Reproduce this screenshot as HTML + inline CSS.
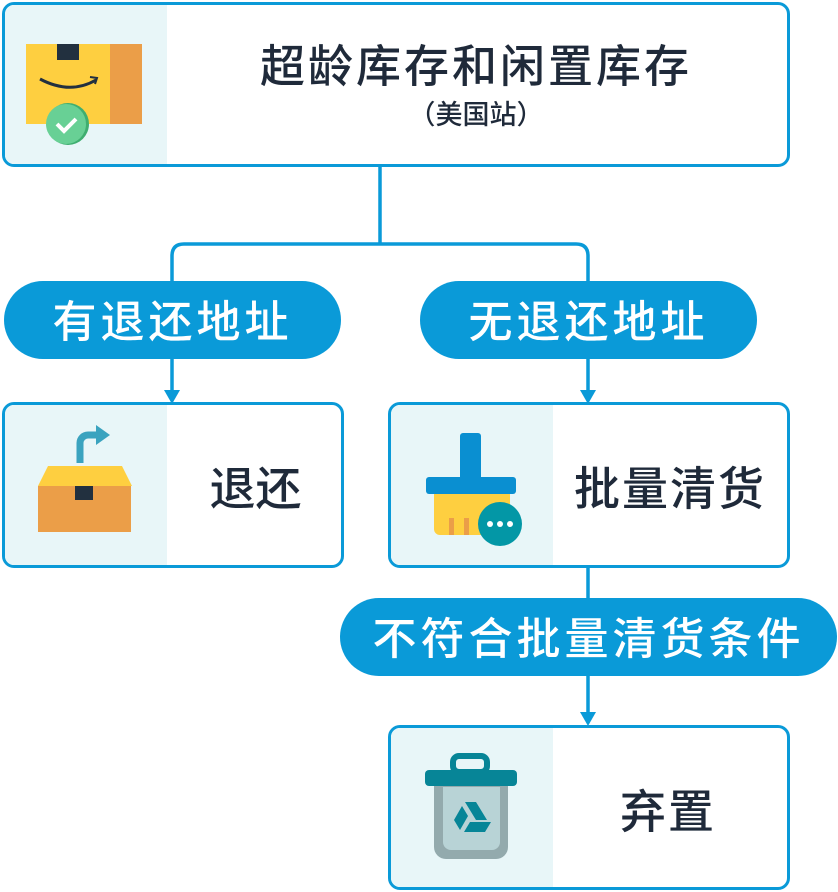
<!DOCTYPE html>
<html><head><meta charset="utf-8"><style>
body{margin:0;width:838px;height:892px;background:#fff;position:relative;overflow:hidden;font-family:"Liberation Sans","Noto Sans CJK SC",sans-serif}
.box{position:absolute;border:3px solid #0a9ad8;border-radius:12px;background:#fff;overflow:hidden;box-sizing:border-box}
.panel{position:absolute;left:0;top:0;bottom:0;background:#e8f6f8}
.t{position:absolute;color:#1f2a3a;font-weight:500;white-space:nowrap;text-align:center}
.pill{position:absolute;background:#0a9ad8;color:#fff;border-radius:40px;font-size:44px;font-weight:500;display:flex;align-items:center;justify-content:center;letter-spacing:4px;padding-bottom:4px;box-sizing:border-box}
svg{position:absolute;left:0;top:0}
</style></head><body>
<svg width="838" height="892">
<g stroke="#0a9ad8" stroke-width="3.5" fill="none">
<path d="M380 166V244M172 285V256Q172 244 184 244H576Q588 244 588 256V285"/>
<path d="M172 359V392M588 359V392M588 567V600M588 676V714"/>
</g>
<g fill="#0a9ad8"><path d="M164 390h16l-8 14z"/><path d="M580 390h16l-8 14z"/><path d="M580 712h16l-8 14z"/></g>
</svg>
<div class="box" style="left:2px;top:2px;width:788px;height:165px"><div class="panel" style="width:162px"></div>
<div class="t" style="left:160px;right:0;top:25px;font-size:45px;letter-spacing:3px">超龄库存和闲置库存</div>
<div class="t" style="left:160px;right:0;top:88px;font-size:27px">（美国站）</div></div>
<div class="box" style="left:2px;top:402px;width:342px;height:166px"><div class="panel" style="width:162px"></div>
<div class="t" style="left:165px;right:0;top:48px;font-size:46px">退还</div></div>
<div class="box" style="left:388px;top:402px;width:402px;height:166px"><div class="panel" style="width:162px"></div>
<div class="t" style="left:162px;right:0;top:48px;font-size:46px;letter-spacing:2px">批量清货</div></div>
<div class="box" style="left:388px;top:725px;width:402px;height:165px"><div class="panel" style="width:162px"></div>
<div class="t" style="left:158px;right:0;top:48px;font-size:46px;letter-spacing:2px">弃置</div></div>
<div class="pill" style="left:4px;top:281px;width:337px;height:78px">有退还地址</div>
<div class="pill" style="left:420px;top:281px;width:337px;height:78px">无退还地址</div>
<div class="pill" style="left:340px;top:598px;width:497px;height:78px">不符合批量清货条件</div>
<svg width="838" height="892">
<rect x="26" y="44" width="84" height="80" fill="#fecf40"/><rect x="110" y="44" width="32" height="80" fill="#eb9e48"/>
<rect x="57" y="44" width="22" height="16" fill="#22303f"/>
<path d="M40 79Q70 95 96 80" stroke="#22303f" stroke-width="3" fill="none"/><path d="M90 77l7 1-2 6" stroke="#22303f" stroke-width="2" fill="none"/>
<circle cx="68" cy="124" r="21" fill="#3fae70"/><circle cx="66" cy="124" r="20" fill="#68d095"/>
<path d="M57 124l7 7 12-12" stroke="#fff" stroke-width="4" fill="none"/>
<path d="M48 466h74l10 20H38z" fill="#fecf40"/><rect x="38" y="486" width="93" height="46" fill="#eb9e48"/>
<rect x="75" y="486" width="18" height="14" fill="#22303f"/>
<path d="M80 463v-20a8 8 0 0 1 8-8h10" stroke="#3aa3bf" stroke-width="7" fill="none"/><path d="M96 425l14 10-14 10z" fill="#3aa3bf"/>
<rect x="460" y="433" width="21" height="50" rx="3" fill="#0a8fd1"/>
<rect x="426" y="477" width="90" height="17" rx="3" fill="#0a8fd1"/>
<path d="M434 494h76v35a6 6 0 0 1-6 6h-64a6 6 0 0 1-6-6z" fill="#fecf40"/>
<rect x="449" y="518" width="5" height="17" fill="#eb9e48"/><rect x="464" y="518" width="5" height="17" fill="#eb9e48"/>
<circle cx="500" cy="524" r="22" fill="#0397a6"/>
<circle cx="490" cy="524" r="3" fill="#fff"/><circle cx="500" cy="524" r="3" fill="#fff"/><circle cx="510" cy="524" r="3" fill="#fff"/>
<rect x="453" y="756" width="34" height="16" rx="6" fill="none" stroke="#078597" stroke-width="6"/>
<path d="M434 785h74v62a12 12 0 0 1-12 12h-50a12 12 0 0 1-12-12z" fill="#93aaad"/>
<path d="M443 787h57v55a8 8 0 0 1-8 8h-41a8 8 0 0 1-8-8z" fill="#b8d3d6"/>
<rect x="425" y="770" width="92" height="16" rx="4" fill="#078597"/>
<path d="M465 802h11l11 18h-11z M462 806l6 10-8 14-6-10z M464 832l6-10h21l-6 10z" fill="#078597"/>
</svg>
</body></html>
